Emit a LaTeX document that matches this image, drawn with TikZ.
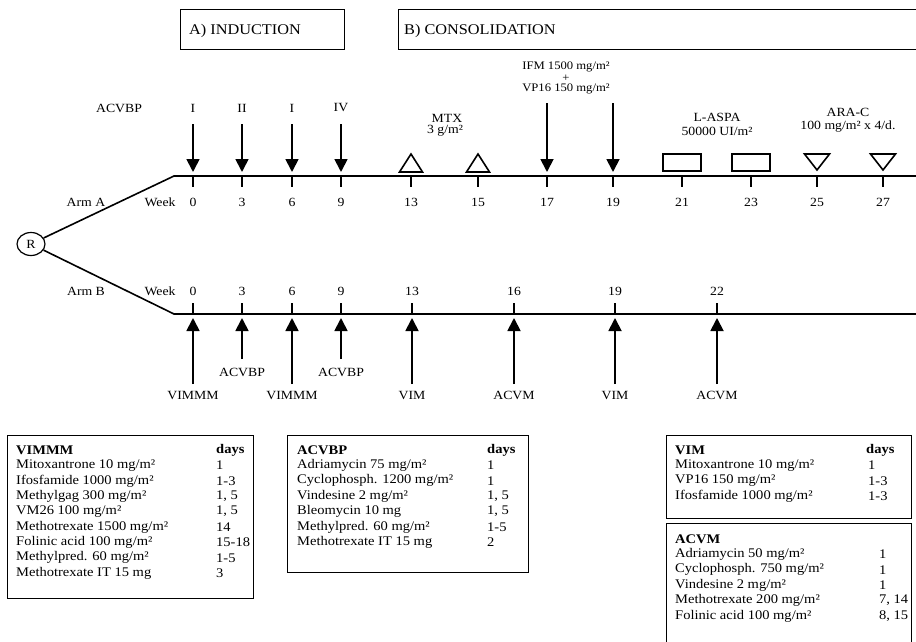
\documentclass[tikz,border=0pt]{standalone}
\usepackage{fontspec}
\setmainfont{Liberation Serif}[FakeStretch=1.1]
\usetikzlibrary{arrows.meta,shapes.geometric}
\begin{document}
\begin{tikzpicture}[x=1pt,y=-1pt,
  lbl/.style={font=\fontsize{12.5}{14}\selectfont, inner sep=0pt},
  small/.style={font=\fontsize{11.5}{13}\selectfont, inner sep=0pt},
  head/.style={font=\fontsize{14.8}{16}\selectfont, inner sep=0pt, anchor=west},
  tab/.style={font=\fontsize{13.2}{15}\selectfont, inner sep=0pt, anchor=west},
  tabb/.style={tab, font=\fontsize{13.2}{15}\selectfont\bfseries},
  axis/.style={line width=1.6pt},
  tick/.style={line width=1.4pt},
  darr/.style={line width=1.8pt, -{Triangle[width=13pt,length=13pt]}},
  sym/.style={line width=1.6pt},
  frame/.style={line width=0.8pt}]
\useasboundingbox (0,0) rectangle (916,642);

% header boxes
\draw[frame] (180,9) rectangle (344,49);
\node[head] (hA) at (189,31) {A) INDUCTION};
\draw[frame] (916,9) -- (398,9) -- (398,49) -- (916,49);
\node[head] (hB) at (404,31) {B) CONSOLIDATION};

% randomisation
\node[draw, ellipse, line width=1.2pt, minimum width=28pt, minimum height=23pt, inner sep=0pt, font=\fontsize{12.5}{14}\selectfont] (R) at (31,244) {R};
\coordinate (aS) at (174,176);
\coordinate (aE) at (916,176);
\coordinate (bS) at (174,314);
\coordinate (bE) at (916,314);
\draw[axis] (R) -- (aS) -- (aE);
\draw[axis] (R) -- (bS) -- (bE);

\node[lbl] (armA) at (86,202) {Arm A};
\node[lbl] (weekA) at (160,202) {Week};
\node[lbl] (armB) at (86,291) {Arm B};
\node[lbl] (weekB) at (160,291) {Week};

% Arm A weeks
\foreach \x/\w in {193/0,242/3,292/6,341/9,411/13,478/15,547/17,613/19,682/21,751/23,817/25,883/27}{
  \draw[tick] (\x,176) -- (\x,187);
  \node[lbl] (wa\w) at (\x,202) {\w};
}
% Arm A induction arrows
\node[lbl] (acvbpA) at (119,108) {ACVBP};
\foreach \x/\r/\n in {193/I/1,242/II/2,292/I/3,341/IV/4}{
  \node[lbl] (ra\n) at (\x,108) {\r};
  \coordinate (ta\n) at (\x,172);
  \draw[darr] (\x,124) -- (ta\n);
}
% MTX triangles
\node[lbl] (mtx) at (447,118) {MTX};
\node[lbl] (mtxd) at (445,131) {3 g/m²};
\draw[sym] (399.5,172) -- (422.5,172) -- (411,154) -- cycle;
\draw[sym] (466.5,172) -- (489.5,172) -- (478,154) -- cycle;
% IFM + VP16
\node[small] (ifm) at (566,67) {IFM 1500 mg/m²};
\node[small] (plus) at (566,78) {+};
\node[small] (vp) at (566,89) {VP16 150 mg/m²};
\coordinate (t17) at (547,172);
\coordinate (t19) at (613,172);
\draw[darr] (547,103) -- (t17);
\draw[darr] (613,103) -- (t19);
% L-ASPA
\node[lbl] (aspa) at (717,117) {L-ASPA};
\node[lbl] (aspad) at (717,131) {50000 UI/m²};
\draw[sym] (663,154) rectangle (701,171);
\draw[sym] (732,154) rectangle (770,171);
% ARA-C
\node[lbl] (arac) at (848,112) {ARA-C};
\node[lbl] (aracd) at (848,127) {100 mg/m² x 4/d.};
\draw[sym] (804.5,154) -- (829.5,154) -- (817,170) -- cycle;
\draw[sym] (870.5,154) -- (895.5,154) -- (883,170) -- cycle;

% Arm B weeks
\foreach \x/\w in {193/0,242/3,292/6,341/9,412/13,514/16,615/19,717/22}{
  \draw[tick] (\x,303) -- (\x,314);
  \node[lbl] (wb\w) at (\x,291) {\w};
}
\foreach \x/\n in {193/1,242/2,292/3,341/4,412/5,514/6,615/7,717/8}{
  \coordinate (tb\n) at (\x,318);
}
\foreach \x/\t/\n in {193/VIMMM/1,292/VIMMM/3,412/VIM/5,514/ACVM/6,615/VIM/7,717/ACVM/8}{
  \node[lbl] (lb\n) at (\x,395) {\t};
  \draw[darr] (\x,384) -- (tb\n);
}
\foreach \x/\t/\n in {242/ACVBP/2,341/ACVBP/4}{
  \node[lbl] (lb\n) at (\x,372) {\t};
  \draw[darr] (\x,359) -- (tb\n);
}

% VIMMM table
\draw[frame] (7,435) rectangle (253,598);
\node[tabb] (v0) at (16,450) {VIMMM};
\node[tabb] (v0d) at (216,450) {days};
\foreach \t/\d [count=\i] in {{Mitoxantrone 10 mg/m²}/{1},{Ifosfamide 1000 mg/m²}/{1-3},{Methylgag 300 mg/m²}/{1, 5},{VM26 100 mg/m²}/{1, 5},{Methotrexate 1500 mg/m²}/{14},{Folinic acid 100 mg/m²}/{15-18},{Methylpred. 60 mg/m²}/{1-5},{Methotrexate IT 15 mg}/{3}}{
  \node[tab] (v\i) at (16,450+15.4*\i) {\t};
  \node[tab] (v\i d) at (216,450+15.4*\i) {\d};
}
% ACVBP table
\draw[frame] (287,435) rectangle (528,572);
\node[tabb] (c0) at (297,450) {ACVBP};
\node[tabb] (c0d) at (487,450) {days};
\foreach \t/\d [count=\i] in {{Adriamycin 75 mg/m²}/{1},{Cyclophosph. 1200 mg/m²}/{1},{Vindesine 2 mg/m²}/{1, 5},{Bleomycin 10 mg}/{1, 5},{Methylpred. 60 mg/m²}/{1-5},{Methotrexate IT 15 mg}/{2}}{
  \node[tab] (c\i) at (297,450+15.4*\i) {\t};
  \node[tab] (c\i d) at (487,450+15.4*\i) {\d};
}
% VIM table
\draw[frame] (666,435) rectangle (911,518);
\node[tabb] (m0) at (675,450) {VIM};
\node[tabb] (m0d) at (866,450) {days};
\foreach \t/\d [count=\i] in {{Mitoxantrone 10 mg/m²}/{1},{VP16 150 mg/m²}/{1-3},{Ifosfamide 1000 mg/m²}/{1-3}}{
  \node[tab] (m\i) at (675,450+15.4*\i) {\t};
  \node[tab] (m\i d) at (868,450+15.4*\i) {\d};
}
% ACVM table
\draw[frame] (666,642) -- (666,523) -- (911,523) -- (911,642);
\node[tabb] (a0) at (675,539) {ACVM};
\foreach \t/\d [count=\i] in {{Adriamycin 50 mg/m²}/{1},{Cyclophosph. 750 mg/m²}/{1},{Vindesine 2 mg/m²}/{1},{Methotrexate 200 mg/m²}/{7, 14},{Folinic acid 100 mg/m²}/{8, 15}}{
  \node[tab] (a\i) at (675,539+15.4*\i) {\t};
  \node[tab] (a\i d) at (879,539+15.4*\i) {\d};
}
\end{tikzpicture}
\end{document}
